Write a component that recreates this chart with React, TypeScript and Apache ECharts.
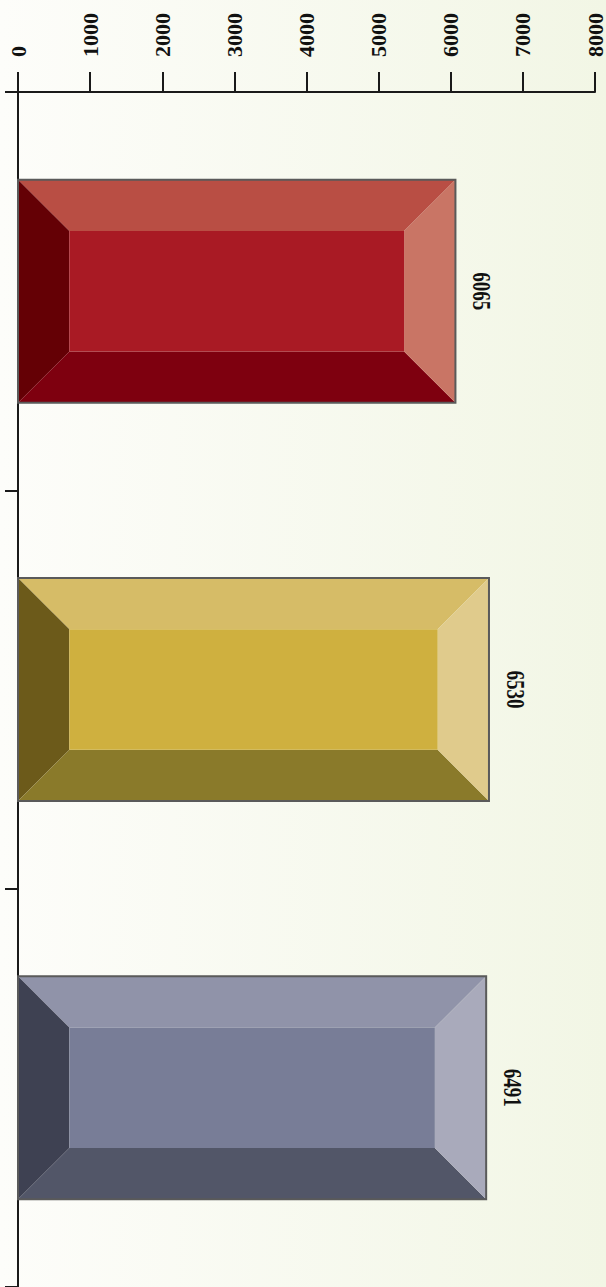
import React, { useEffect, useRef } from "react";
import * as echarts from "echarts";

const categories = ["Series 1", "Series 2", "Series 3"];
const values = [6065, 6530, 6491];
const valueMin = 0;
const valueMax = 8000;
const valueInterval = 1000;

// face colours: [center, top, left, bottom, right]
const faceColors = [
  ["#A91A24", "#B94E44", "#640005", "#7E000F", "#C97565"],
  ["#CFB03F", "#D6BC67", "#6C5A1A", "#8A7A2A", "#E0CB8C"],
  ["#787D97", "#9093A9", "#3E4152", "#525668", "#A9AABB"],
];

const FONT = "'Liberation Serif', 'Times New Roman', serif";

export default function App() {
  const ref = useRef<HTMLDivElement>(null);
  useEffect(() => {
    document.body.style.margin = "0";
    const chart = echarts.init(ref.current!, null, { renderer: "svg" });
    const option: any = {
      animation: false,
      backgroundColor: {
        type: "linear",
        x: 0,
        y: 0,
        x2: 1,
        y2: 0,
        colorStops: [
          { offset: 0, color: "#FDFDFA" },
          { offset: 1, color: "#F2F6E5" },
        ],
      },
      grid: { left: 18, right: 10, top: 92, bottom: -5, containLabel: false },
      xAxis: {
        type: "value",
        position: "top",
        min: valueMin,
        max: valueMax,
        interval: valueInterval,
        axisLine: { show: true, lineStyle: { color: "#1a1a1a", width: 2 } },
        axisTick: { show: true, length: 20, lineStyle: { color: "#1a1a1a", width: 2 } },
        splitLine: { show: false },
        axisLabel: {
          rotate: -90,
          margin: 35,
          formatter: (v: number) => String(v),
          fontFamily: FONT,
          fontWeight: "bold",
          fontSize: 22,
          color: "#111",
        },
      },
      yAxis: {
        type: "category",
        inverse: true,
        data: categories,
        axisLine: { show: true, lineStyle: { color: "#1a1a1a", width: 2 } },
        axisTick: { show: true, length: 13, lineStyle: { color: "#1a1a1a", width: 2 } },
        axisLabel: { show: false },
        splitLine: { show: false },
      },
      series: [
        {
          type: "custom",
          data: values.map((v, i) => [i, v]),
          encode: { x: 1, y: 0 },
          renderItem: (params: any, api: any) => {
            const cat = api.value(0);
            const v = api.value(1);
            const p0 = api.coord([0, cat]);
            const p1 = api.coord([v, cat]);
            const bandH = api.size([0, 1])[1];
            const h = bandH * 0.56;
            const x0 = p0[0];
            const x1 = p1[0];
            const yc = p0[1];
            const y0 = yc - h / 2;
            const y1 = yc + h / 2;
            const b = Math.min(h, x1 - x0) * 0.23;
            const c = faceColors[params.dataIndex % faceColors.length];
            const ix0 = x0 + b, ix1 = x1 - b, iy0 = y0 + b, iy1 = y1 - b;
            return {
              type: "group",
              children: [
                { type: "polygon", shape: { points: [[x0, y0], [x1, y0], [ix1, iy0], [ix0, iy0]] }, style: { fill: c[1] } },
                { type: "polygon", shape: { points: [[x0, y0], [ix0, iy0], [ix0, iy1], [x0, y1]] }, style: { fill: c[2] } },
                { type: "polygon", shape: { points: [[x0, y1], [ix0, iy1], [ix1, iy1], [x1, y1]] }, style: { fill: c[3] } },
                { type: "polygon", shape: { points: [[x1, y0], [x1, y1], [ix1, iy1], [ix1, iy0]] }, style: { fill: c[4] } },
                { type: "rect", shape: { x: ix0, y: iy0, width: ix1 - ix0, height: iy1 - iy0 }, style: { fill: c[0] } },
                {
                  type: "rect",
                  shape: { x: x0, y: y0, width: x1 - x0, height: y1 - y0 },
                  style: { fill: "none", stroke: "#5a5a5a", lineWidth: 2 },
                },
                {
                  type: "text",
                  x: x1 + 26,
                  y: yc,
                  rotation: -Math.PI / 2,
                  scaleY: 1.3,
                  style: {
                    text: String(v),
                    align: "center",
                    verticalAlign: "middle",
                    font: `bold 19px ${FONT}`,
                    fill: "#111",
                  },
                },
              ],
            };
          },
        },
      ],
    };
    chart.setOption(option);
    return () => chart.dispose();
  }, []);
  return <div ref={ref} style={{ width: 606, height: 1287 }} />;
}
